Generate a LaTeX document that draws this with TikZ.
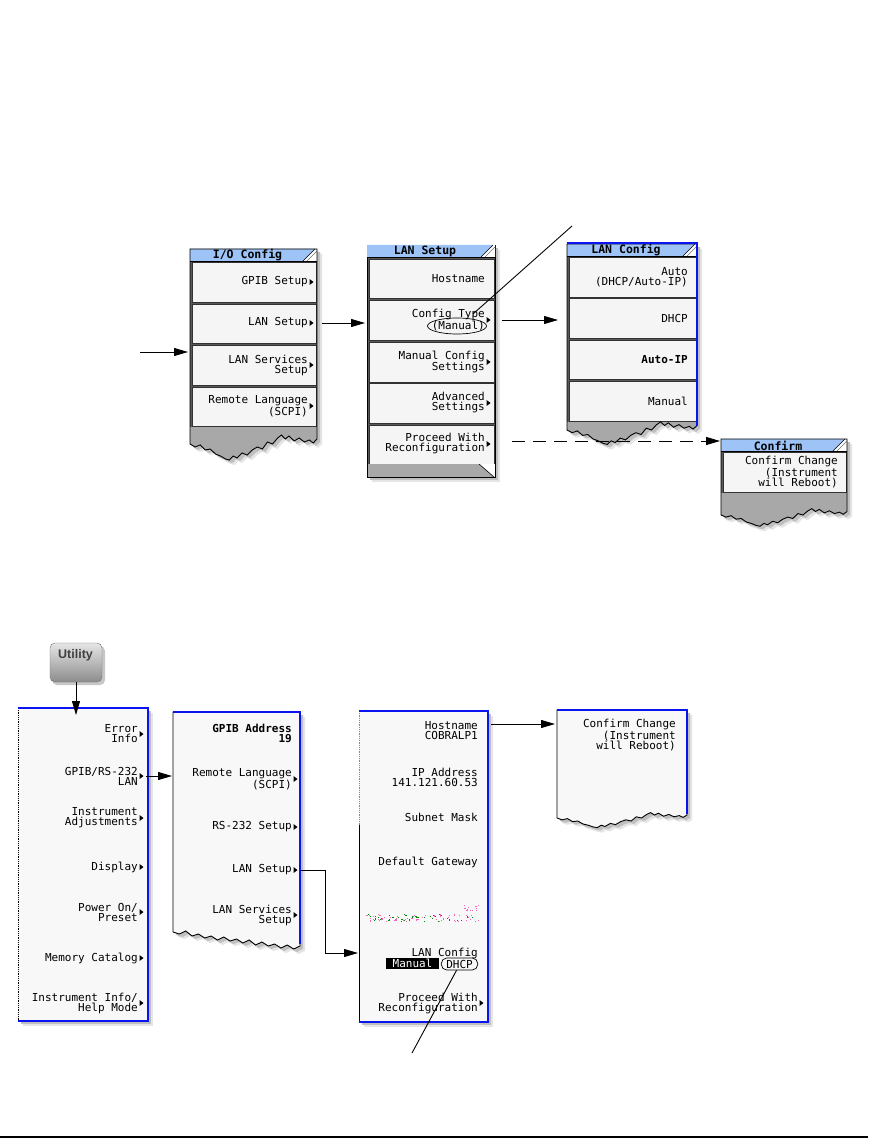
\documentclass[tikz,border=0pt]{standalone}
\usepackage{fontspec}
\newfontfamily\pix{DejaVu Sans Mono}
\newfontfamily\usans{Liberation Sans}
\usetikzlibrary{arrows.meta,shapes.geometric}
\definecolor{tblue}{HTML}{9DC3F7}
\definecolor{bblue}{HTML}{0A14F0}
\definecolor{btnbg}{HTML}{F5F5F5}
\definecolor{tear}{HTML}{A8A8A8}
\definecolor{lightbg}{HTML}{F8F8F8}
\def\tornA{0/0,.04/3,.08/1,.12/6,.16/5,.2/10,.24/12,.28/15,.31/16,.34/12,.37/14,.41/9,.45/11,.49/6,.53/3,.57/5,.61/-2,.65/0,.69/-6,.72/-9,.75/-5,.78/-8,.82/-3,.86/-6,.9/-2,.94/-4,.97/-1,1/-5}
\def\tornB{0/-4,.05/-2,.1/-5,.15/0,.2/-2,.25/2,.3/0,.35/4,.4/1,.45/5,.5/3,.55/7,.6/4,.65/9,.7/6,.75/10,.8/8,.85/12,.9/9,.95/13,1/10}
\newcommand\tornshape[6]{(#1,#3) \foreach \f/\d in #6 {-- ({#1+\f*(#2-#1)},{#4+(\d)*#5})} -- (#2,#3) -- cycle}
\newcommand\mitem[4]{\node[lbl] (#1) at (#2,#3) {#4};\fill ({#2+1.5},{#3-3}) -- ({#2+5.5},{#3}) -- ({#2+1.5},{#3+3}) -- cycle;}
\newcommand\mitemn[4]{\node[lbl] (#1) at (#2,#3) {#4};}
\newcommand\tbtn[4]{\filldraw[fill=btnbg, draw=black!80, line width=.7pt] (#1,#2) rectangle (#3,#4);}
\newcommand\titlebar[6]{%
 \fill[tblue] (#2,#3) -- ({#4-2},#3) -- ({#4-14},#5) -- (#2,#5) -- cycle;
 \fill[white] ({#4-2},#3) -- (#4,#3) -- (#4,#5) -- ({#4-14},#5) -- cycle;
 \draw[line width=.6pt] ({#4-2},#3) -- ({#4-14},#5);
 \draw[line width=.5pt, black!55] (#4,{#3+2}) -- ({#4-10},#5);
 \draw[line width=.8pt] (#2,#5) -- (#4,#5);
 \node[ttl] (#1) at ({(#2+#4-12)/2},{(#3+#5)/2+.5}) {#6};}
\begin{document}
\begin{tikzpicture}[x=1pt,y=-1pt,
 lbl/.style={font=\pix\fontsize{11}{10}\selectfont, align=right, inner sep=0pt, anchor=east},
 ttl/.style={font=\pix\bfseries\fontsize{11.5}{11}\selectfont, inner sep=0pt},
 arr/.style={line width=.9pt, -{Triangle[length=14pt,width=8pt]}},
 conn/.style={line width=.9pt}]
\useasboundingbox (0,0) rectangle (868,1139);
\fill[white] (0,0) rectangle (868,1139);

% ---------- Panel A: I/O Config
\fill[black!10, shift={(5,5)}] \tornshape{190}{317}{249}{444}{1}{\tornA};
\fill[black!25, shift={(3,3)}] \tornshape{190}{317}{249}{444}{1}{\tornA};
\fill[tear] \tornshape{190}{317}{249}{444}{1}{\tornA};
\fill[black!65] (190,261) rectangle (317,427);
\tbtn{192}{262}{316}{302}
\tbtn{192}{304}{316}{343}
\tbtn{192}{345}{316}{385}
\tbtn{192}{387}{316}{426}
\titlebar{a-title}{190}{249}{317}{261}{I/O Config}
\draw[line width=.9pt] \tornshape{190}{317}{249}{444}{1}{\tornA};
\mitem{a-gpib}{308}{282}{GPIB Setup}
\mitem{a-lan}{308}{323}{LAN Setup}
\mitem{a-lserv}{308}{365}{LAN Services\\Setup}
\mitem{a-rl}{308}{406}{Remote Language\\(SCPI)}

% ---------- Panel B: LAN Setup
\fill[black!10] (372,250) rectangle (500,482);
\fill[black!25] (370,248) rectangle (498,480);
\fill[black!65] (367,245) rectangle (495,464);
\tbtn{369}{259}{494}{298}
\tbtn{369}{300}{494}{340}
\tbtn{369}{342}{494}{382}
\tbtn{369}{383}{494}{423}
\tbtn{369}{425}{494}{464}
\fill[tear] (367,464) -- (479,464) -- (494,477) -- (367,477) -- cycle;
\fill[white] (479,464) -- (495,464) -- (495,477) -- (494,477) -- cycle;
\draw[line width=.6pt] (479,464) -- (494,477);
\draw[line width=.9pt] (367,245) rectangle (495,477);
\titlebar{b-title}{367}{245}{495}{257}{LAN Setup}
\mitemn{b-host}{485}{279}{Hostname}
\mitem{b-ctype}{485}{320}{Config Type\\(Manual)}
\mitem{b-man}{485}{362}{Manual Config\\Settings}
\mitem{b-adv}{485}{403}{Advanced\\Settings}
\mitem{b-proc}{485}{444}{Proceed With\\Reconfiguration}
\node[draw, ellipse, minimum width=59pt, minimum height=16pt, inner sep=0pt, line width=.7pt] (b-oval) at (457,326) {};

% ---------- Panel D: LAN Config
\fill[black!10, shift={(5,5)}] \tornshape{567}{697}{244}{430}{.9}{\tornA};
\fill[black!25, shift={(3,3)}] \tornshape{567}{697}{244}{430}{.9}{\tornA};
\fill[tear] \tornshape{567}{697}{244}{430}{.9}{\tornA};
\fill[black!65] (567,256) rectangle (697,422);
\tbtn{569}{257}{696}{297}
\tbtn{569}{298}{696}{338}
\tbtn{569}{340}{696}{379}
\tbtn{569}{381}{696}{421}
\titlebar{d-title}{567}{244}{697}{256}{LAN Config}
\draw[line width=.9pt] \tornshape{567}{697}{244}{430}{.9}{\tornA};
\draw[bblue, line width=2pt] (567,243) -- (697,243) -- (697,426);
\mitemn{d-auto}{688}{277}{Auto\\(DHCP/Auto-IP)}
\mitemn{d-dhcp}{688}{318}{DHCP}
\node[lbl, font=\pix\bfseries\fontsize{11}{10}\selectfont] (d-autoip) at (688,359.5) {Auto-IP};
\mitemn{d-man}{688}{401}{Manual}

% ---------- Panel E: Confirm (top)
\fill[black!10, shift={(5,5)}] \tornshape{721}{847}{439}{515}{.7}{\tornA};
\fill[black!25, shift={(3,3)}] \tornshape{721}{847}{439}{515}{.7}{\tornA};
\fill[tear] \tornshape{721}{847}{439}{515}{.7}{\tornA};
\fill[black!65] (721,451) rectangle (847,493);
\tbtn{723}{452}{846}{492}
\titlebar{e-title}{721}{439}{847}{451}{Confirm}
\draw[line width=.9pt] \tornshape{721}{847}{439}{515}{.7}{\tornA};
\mitemn{e-conf}{838}{472}{Confirm Change\\(Instrument\\will Reboot)}

% ---------- top connectors
\coordinate (a-src) at (140,352);
\coordinate (a-in) at (188,352);
\coordinate (b-in) at (365,323);
\coordinate (d-in) at (558,320);
\coordinate (b-proc-out) at (512,441);
\coordinate (e-in) at (720,441);
\coordinate (callA) at (572,226);
\coordinate (callA-end) at (473,314);
\draw[arr] (a-src) -- (a-in);
\draw[arr] ([xshift=14pt]a-lan.east) -- (b-in);
\draw[arr] ([xshift=17pt]b-ctype.east) -- (d-in);
\draw[arr, dash pattern=on 13pt off 8pt] (b-proc-out) -- (e-in);
\draw[conn] (callA) -- (callA-end);

% ---------- Utility key
\fill[black!22, rounded corners=5pt] (52,646) rectangle (105,685);
\node[draw=black!55, rounded corners=5pt, top color=black!10, bottom color=black!45, minimum width=52pt, minimum height=39pt, inner sep=0pt] (utilbtn) at (76,662.5) {};
\node[font=\usans\bfseries\fontsize{12.5}{13}\selectfont, text=black!75, inner sep=0pt] (utiltxt) at (75.5,655) {Utility};

% ---------- Panel C: Utility menu
\fill[black!10] (23,713) rectangle (153,1026);
\fill[black!25] (21,711) rectangle (151,1024);
\fill[lightbg] (18,708) rectangle (148,1021);
\draw[line width=.8pt, densely dotted] (18,708) -- (18,1021);
\draw[bblue, line width=2.2pt] (18,708) -- (148,708) -- (148,1021) -- (18,1021);
\mitem{c-err}{138}{734}{Error\\Info}
\mitem{c-gpib}{138}{776}{GPIB/RS-232\\LAN}
\mitem{c-inst}{138}{818}{Instrument\\Adjustments}
\mitem{c-disp}{138}{867}{Display}
\mitem{c-pwr}{138}{912}{Power On/\\Preset}
\mitem{c-mem}{138}{958}{Memory Catalog}
\mitem{c-info}{138}{1003}{Instrument Info/\\Help Mode}

% ---------- Panel F: GPIB/RS-232/LAN
\fill[black!10, shift={(5,5)}] \tornshape{173}{300}{712}{936}{1}{\tornB};
\fill[black!25, shift={(3,3)}] \tornshape{173}{300}{712}{936}{1}{\tornB};
\fill[lightbg] \tornshape{173}{300}{712}{936}{1}{\tornB};
\draw[line width=.9pt] \tornshape{173}{300}{712}{936}{1}{\tornB};
\draw[bblue, line width=2.2pt] (173,712) -- (300,712) -- (300,944);
\node[lbl, font=\pix\bfseries\fontsize{11}{10}\selectfont] (f-gpib) at (292,733) {GPIB Address\\19};
\mitem{f-rl}{292}{779}{Remote Language\\(SCPI)}
\mitem{f-rs}{292}{827}{RS-232 Setup}
\mitem{f-lan}{292}{870}{LAN Setup}
\mitem{f-lserv}{292}{915}{LAN Services\\Setup}

% ---------- Panel G: LAN Setup (bottom)
\fill[black!10] (364,716) rectangle (493,1027);
\fill[black!25] (362,714) rectangle (491,1025);
\fill[lightbg] (359,711) rectangle (488,1022);
\draw[magenta!70, line width=.8pt, densely dotted] (359,711) -- (359,825);
\draw[line width=.8pt] (359,825) -- (359,1022);
\draw[bblue, line width=2.2pt] (359,711) -- (488,711) -- (488,1022) -- (359,1022);
\mitemn{g-host}{478}{731}{Hostname\\COBRALP1}
\mitemn{g-ip}{478}{777}{IP Address\\141.121.60.53}
\mitemn{g-sub}{478}{817}{Subnet Mask}
\mitemn{g-gw}{478}{862}{Default Gateway}
\pgfmathsetseed{7}
\foreach \i in {1,...,55}{\pgfmathsetmacro\xx{366+rnd*114}\pgfmathsetmacro\yy{914+rnd*7}\fill[magenta!60] (\xx,\yy) rectangle +(1.1,1.1);}
\foreach \i in {1,...,45}{\pgfmathsetmacro\xx{366+rnd*114}\pgfmathsetmacro\yy{914+rnd*7}\fill[green!55!black] (\xx,\yy) rectangle +(1.1,1.1);}
\foreach \i in {1,...,12}{\pgfmathsetmacro\xx{464+rnd*14}\pgfmathsetmacro\yy{904+rnd*6}\fill[magenta!60] (\xx,\yy) rectangle +(1.1,1.1);}
\mitemn{g-lc}{478}{953}{LAN Config}
\node[fill=black, text=white, font=\pix\fontsize{11}{10}\selectfont, inner xsep=7pt, inner ysep=0pt, minimum height=11pt] (g-manual) at (412.5,963) {Manual};
\node[draw, rounded corners=5.5pt, font=\pix\fontsize{11}{10}\selectfont, inner xsep=5pt, inner ysep=0pt, minimum height=12pt, line width=.7pt] (g-dhcp) at (459.5,964) {DHCP};
\mitem{g-proc}{478}{1003}{Proceed With\\Reconfiguration}

% ---------- Panel H: Confirm (bottom)
\fill[black!10, shift={(5,5)}] \tornshape{557}{687}{710}{818}{.6}{\tornA};
\fill[black!25, shift={(3,3)}] \tornshape{557}{687}{710}{818}{.6}{\tornA};
\fill[lightbg] \tornshape{557}{687}{710}{818}{.6}{\tornA};
\draw[line width=.9pt] \tornshape{557}{687}{710}{818}{.6}{\tornA};
\draw[bblue, line width=2.2pt] (557,710) -- (687,710) -- (687,814);
\mitemn{h-conf}{676}{735}{Confirm Change\\(Instrument\\will Reboot)}

% ---------- bottom connectors
\coordinate (c-in) at (76,715);
\coordinate (f-in) at (172,776);
\coordinate (f-bend) at (325,870);
\coordinate (g-in) at (358,953);
\coordinate (g-host-out) at (491,724);
\coordinate (h-in) at (555,724);
\coordinate (callB) at (412,1053);
\draw[arr] (utilbtn.south) -- (c-in);
\draw[arr] ([xshift=8pt]c-gpib.east) -- (f-in);
\draw[arr] ([xshift=9pt]f-lan.east) -- (f-bend) |- (g-in);
\draw[arr] (g-host-out) -- (h-in);
\draw[conn] (callB) -- ([xshift=-3pt]g-dhcp.south);

% ---------- bottom rule
\coordinate (rule-l) at (0,1137);
\coordinate (rule-r) at (868,1137);
\draw[line width=2.4pt] (rule-l) -- (rule-r);
\end{tikzpicture}
\end{document}
